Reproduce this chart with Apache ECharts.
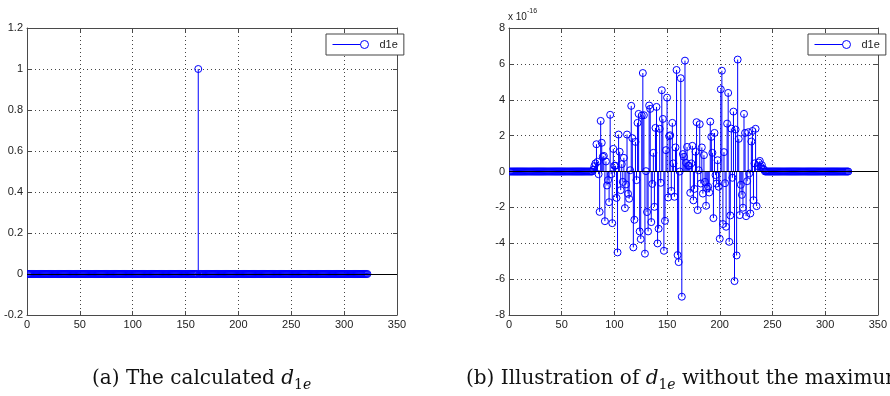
<!DOCTYPE html>
<html>
<head>
<meta charset="utf-8">
<title>d1e stem plots</title>
<script src="https://cdn.jsdelivr.net/npm/echarts/dist/echarts.min.js"></script>
<style>
  html, body { margin: 0; padding: 0; background: #fff; }
  #chart { width: 890px; height: 396px; }
</style>
</head>
<body>
<div id="chart"></div>
<script>
// ---- data -------------------------------------------------------------
// samples are numbered 1..sampleCount
const sampleCount = 322;
// (a) the calculated d1e: a single unit peak, zero elsewhere
const peakIndex = 162;
const peakValue = 1;
// (b) d1e with the maximum removed: round-off residue, in units of 1e-16
const residualStart = 80;
const residualValues = [
  0.1, 0.3, 0.45, 1.52, 0.54, -0.15, -2.25, 2.82, 1.6, 0.82, 0.87, -2.77, 0.56, -0.78, -0.48,
  -1.71, 3.16, -0.15, -2.88, 1.26, 0.32, 0.32, -1.47, -4.51, 2.06, 1.1, -1.04, 0.41, -0.58,
  0.76, -2.04, -0.72, 2.06, -1.24, -1.52, 0.07, 3.66, 1.86, -4.23, -2.69, 1.65, -0.48, 2.71,
  3.21, -3.34, -3.77, 3.12, 5.49, 3.14, -4.58, 0.02, -2.26, -3.34, 3.68, 3.49, -2.82, -0.69,
  1.04, -1.97, 2.43, 3.6, -4.01, -3.19, 2.38, -0.63, 4.53, 2.93, -4.42, -2.75, 1.19, 4.12,
  -1.45, 1.97, 2.02, -1.08, 2.71, 0.45, -1.41, 1.34, 5.66, -4.66, -5.05, 0, 5.2, -6.98, 0.97,
  0.82, 6.18, 0.48, 1.37, 0.32, 0.32, -1.19, 0.45, 1.43, -1.61, -0.97, 1.1, 2.75, -2.15, 0.07,
  2.64, -0.67, 1.34, -1.23, 0.91, -0.58, -1.91, -0.95, -0.85, -1.17, 2.78, 1.93, 1.04, -2.6,
  2.15, -0.2, -0.67, 0.63, -0.85, -3.75, 4.58, 5.62, -2.93, 1.08, -0.65, -3.08, 2.67, 4.38,
  -3.92, -2.45, 2.39, -0.35, 3.34, -6.11, 2.34, -4.68, 6.24, 1.82, -2.43, -0.74, -1.3, -2.02,
  3.21, 2.15, -2.49, -0.54, 2.19, -0.11, -2.34, 1.67, 2.26, -1.6, 0.45, 2.38, -1.93, 0.3, 0.5,
  0.59, 0.26, 0.35, 0.15, 0.1
];
const xTicks = { min: 0, max: 350, step: 50 };
const yTicksA = { min: -0.2, max: 1.2, step: 0.2 };
const yTicksB = { min: -8, max: 8, step: 2 };
const seriesName = 'd1e';

// ---- build [n, value] pairs ------------------------------------------
const d1e = [];
const d1eResidual = [];
for (let n = 1; n <= sampleCount; n++) {
  d1e.push([n, n === peakIndex ? peakValue : 0]);
  const k = n - residualStart;
  d1eResidual.push([n, k >= 0 && k < residualValues.length ? residualValues[k] : 0]);
}

// ---- styling helpers --------------------------------------------------
const STEM = '#0000ff';
const FRAME = '#4a4a4a';
const TEXT = '#222';
const SANS = 'Liberation Sans, Arial, sans-serif';
const SERIF = 'DejaVu Serif, serif';

// stem: vertical line from the baseline plus an open circle at the value
function stemItem(params, api) {
  const x = api.value(0), y = api.value(1);
  const base = api.coord([x, 0]);
  const tip = api.coord([x, y]);
  return {
    type: 'group',
    children: [
      { type: 'line', shape: { x1: base[0], y1: base[1], x2: tip[0], y2: tip[1] },
        style: { stroke: STEM, lineWidth: 1 } },
      { type: 'circle', shape: { cx: tip[0], cy: tip[1], r: 3.5 },
        style: { stroke: STEM, fill: 'none', lineWidth: 1 } }
    ]
  };
}

function trim(v) { return String(+v.toFixed(2)); }

function xAxes(grid) {
  const common = {
    type: 'value', gridIndex: grid, min: xTicks.min, max: xTicks.max, interval: xTicks.step,
    axisLine: { show: true, onZero: false, lineStyle: { color: FRAME, width: 1 } },
    axisTick: { show: true, inside: true, length: 4, lineStyle: { color: FRAME } }
  };
  return [
    Object.assign({}, common, {
      position: 'bottom',
      axisLabel: { show: true, margin: 4, color: TEXT, fontFamily: SANS, fontSize: 11, formatter: trim },
      splitLine: { show: true, lineStyle: { color: '#444', type: [1, 3], width: 1 } }
    }),
    Object.assign({}, common, {
      position: 'top', axisLabel: { show: false }, splitLine: { show: false }
    })
  ];
}

function yAxes(grid, ticks) {
  const common = {
    type: 'value', gridIndex: grid, min: ticks.min, max: ticks.max, interval: ticks.step,
    axisLine: { show: true, onZero: false, lineStyle: { color: FRAME, width: 1 } },
    axisTick: { show: true, inside: true, length: 4, lineStyle: { color: FRAME } }
  };
  return [
    Object.assign({}, common, {
      position: 'left',
      axisLabel: { show: true, margin: 4, color: TEXT, fontFamily: SANS, fontSize: 11, formatter: trim },
      splitLine: { show: true, lineStyle: { color: '#444', type: [1, 3], width: 1 } }
    }),
    Object.assign({}, common, {
      position: 'right', axisLabel: { show: false }, splitLine: { show: false }
    })
  ];
}

function stemSeries(data, xIndex, yIndex) {
  return {
    name: seriesName,
    type: 'custom',
    xAxisIndex: xIndex,
    yAxisIndex: yIndex,
    data: data,
    encode: { x: 0, y: 1 },
    renderItem: stemItem,
    itemStyle: { color: STEM },
    clip: true,
    z: 3,
    markLine: {
      silent: true,
      symbol: ['none', 'none'],
      label: { show: false },
      lineStyle: { color: '#000', type: 'solid', width: 1 },
      data: [{ yAxis: 0 }],
      animation: false
    }
  };
}

function legendBox(left) {
  return {
    data: [seriesName],
    left: left, top: 34,
    orient: 'horizontal',
    padding: [5, 6, 5, 6],
    itemWidth: 36, itemHeight: 8, itemGap: 4,
    icon: 'path://M0,4 L28,4 M28,4 A4,4 0 1 1 36,4 A4,4 0 1 1 28,4',
    itemStyle: { color: 'transparent', borderColor: STEM, borderWidth: 1 },
    backgroundColor: '#fff',
    borderColor: '#444', borderWidth: 1,
    textStyle: { color: TEXT, fontFamily: SANS, fontSize: 11, padding: [0, 0, 0, 6] },
    selectedMode: false
  };
}

const captionRich = {
  n: { fontFamily: SERIF, fontSize: 20, fontWeight: 'normal', color: '#111', lineHeight: 26 },
  i: { fontFamily: SERIF, fontSize: 20, fontWeight: 'normal', fontStyle: 'italic', color: '#111', lineHeight: 26 },
  s: { fontFamily: SERIF, fontSize: 14, fontWeight: 'normal', color: '#111', lineHeight: 18, verticalAlign: 'bottom' },
  si: { fontFamily: SERIF, fontSize: 14, fontWeight: 'normal', fontStyle: 'italic', color: '#111', lineHeight: 18, verticalAlign: 'bottom' }
};

const option = {
  animation: false,
  backgroundColor: '#fff',
  title: [
    { text: '{n|x 10}{sup|-16}', left: 508, top: 8, padding: 0,
      textStyle: { fontWeight: 'normal', rich: {
        n: { fontFamily: SANS, fontSize: 10, fontWeight: 'normal', color: TEXT, lineHeight: 14, verticalAlign: 'bottom' },
        sup: { fontFamily: SANS, fontSize: 7, fontWeight: 'normal', color: TEXT, lineHeight: 14, verticalAlign: 'top' }
      } } },
    { text: '{n|(a) The calculated }{i|d}{s|1}{si|e}', left: 92, top: 366, padding: 0,
      textStyle: { fontWeight: 'normal', rich: captionRich } },
    { text: '{n|(b) Illustration of }{i|d}{s|1}{si|e}{n| without the maximum}', left: 466, top: 366, padding: 0,
      textStyle: { fontWeight: 'normal', rich: captionRich } }
  ],
  legend: [legendBox(326), legendBox(808)],
  grid: [
    { left: 27, right: 493, top: 28, bottom: 81, show: false },
    { left: 509, right: 11, top: 28, bottom: 81, show: false }
  ],
  xAxis: [].concat(xAxes(0), xAxes(1)),
  yAxis: [].concat(yAxes(0, yTicksA), yAxes(1, yTicksB)),
  series: [
    stemSeries(d1e, 0, 0),
    stemSeries(d1eResidual, 2, 2)
  ]
};

const chart = echarts.init(document.getElementById('chart'), null, { renderer: 'canvas' });
chart.setOption(option);
</script>
</body>
</html>
